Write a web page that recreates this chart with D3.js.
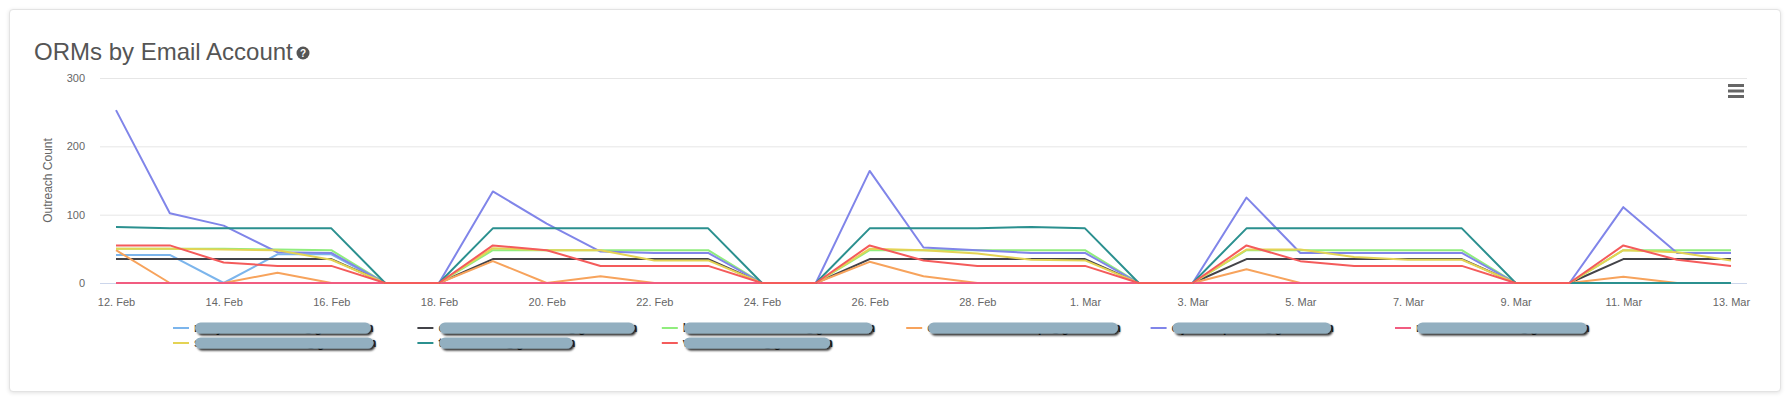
<!DOCTYPE html>
<html>
<head>
<meta charset="utf-8">
<script src="https://cdn.jsdelivr.net/npm/d3@7"></script>
<style>
	body { margin: 0; background: #fff; font-family: "Liberation Sans", Arial, sans-serif; }
	#card {
		position: absolute; left: 9px; top: 9px; width: 1770px; height: 381px;
		background: #fff; border: 1px solid #e3e3e3; border-radius: 4px;
		box-shadow: 0 1px 4px rgba(0,0,0,0.12);
	}
	#chart { position: absolute; left: 0; top: 0; }
</style>
</head>
<body>
<div id="card"></div>
<svg id="chart" width="1786" height="400"></svg>
<script>
var dates = ["2020-02-12","2020-02-13","2020-02-14","2020-02-15","2020-02-16","2020-02-17","2020-02-18",
	"2020-02-19","2020-02-20","2020-02-21","2020-02-22","2020-02-23","2020-02-24","2020-02-25",
	"2020-02-26","2020-02-27","2020-02-28","2020-02-29","2020-03-01","2020-03-02","2020-03-03",
	"2020-03-04","2020-03-05","2020-03-06","2020-03-07","2020-03-08","2020-03-09","2020-03-10",
	"2020-03-11","2020-03-12","2020-03-13"];

var names = ["rmaynard.outreach@gmail.com", "outreachteams.market@gmail.com", "lwilliamsoutreach.lnk@gmail.com",
	"c.harrison.linkbuildpr@gmail.com", "c.jensen.prteam@gmail.com", "r.dalton.seo.contc@gmail.com",
	"s.whitford.outreach@gmail.com", "t.smith2159@gmail.com", "v.mercer.links@gmail.com"];

var colors = ["#7cb5ec", "#434348", "#90ed7d", "#f7a35c", "#8085e9", "#f15c80", "#e4d354", "#2b908f", "#f45b5b"];

var blueVals   = [41,41,0,42,42,0,0,0,0,0,0,0,0,0,0,0,0,0,0,0,0,0,0,0,0,0,0,0,0,0,0];
var blackVals  = [35,35,35,35,35,0,0,35,35,35,35,35,0,0,35,35,35,35,35,0,0,35,35,35,35,35,0,0,35,35,35];
var greenVals  = [50,50,50,49,48,0,0,48,48,48,48,48,0,0,48,48,48,48,48,0,0,48,48,48,48,48,0,0,48,48,48];
var orangeVals = [48,0,0,15,0,0,0,32,0,10,0,0,0,0,31,10,0,0,0,0,0,20,0,0,0,0,0,0,9,0,0];
var purpleVals = [253,102,84,45,44,0,0,134,87,46,44,44,0,0,164,52,48,44,44,0,0,125,44,44,44,44,0,0,111,44,44];
var pinkVals   = [0,0,0,0,0,0,0,0,0,0,0,0,0,0,0,0,0,0,0,0,0,0,0,0,0,0,0,0,0,0,0];
var yellowVals = [50,50,49,48,34,0,0,51,48,48,33,33,0,0,50,48,43,34,33,0,0,49,49,38,34,34,0,0,48,45,33];
var tealVals   = [82,80,80,80,80,0,0,80,80,80,80,80,0,0,80,80,80,82,80,0,0,80,80,80,80,80,0,0,0,0,0];
var redVals    = [55,55,30,25,25,0,0,55,48,25,25,25,0,0,55,33,25,25,25,0,0,55,32,25,25,25,0,0,55,34,25];

var yTicks = [0, 100, 200, 300];

var series = [blueVals, blackVals, greenVals, orangeVals, purpleVals, pinkVals, yellowVals, tealVals, redVals]
	.map(function(v, i) { return {name: names[i], color: colors[i], values: v}; });

var parse = d3.timeParse("%Y-%m-%d");
var days = dates.map(parse);

var svg = d3.select("#chart"),
	plot = {left: 100, right: 1747, top: 78, bottom: 283};

var x = d3.scaleTime()
	.domain(d3.extent(days))
	.range([116, 1731]);

var y = d3.scaleLinear()
	.domain([0, 300])
	.range([plot.bottom, plot.top]);

/* title */

svg.append("text")
	.attr("x", 34).attr("y", 60)
	.style("font-size", "24px").style("fill", "#555")
	.text("ORMs by Email Account");

var help = svg.append("g").attr("transform", "translate(303,53)");
help.append("circle").attr("r", 6.5).attr("fill", "#555");
help.append("text").attr("y", 4).attr("text-anchor", "middle")
	.style("font-size", "10px").style("font-weight", "bold").style("fill", "#fff").text("?");

// menu button
var menu = svg.append("g").attr("transform", "translate(1736,91)");
[-5.5, 0, 5.5].forEach(function(d) {
	menu.append("line").attr("x1", -8).attr("x2", 8).attr("y1", d).attr("y2", d)
		.attr("stroke", "#666").attr("stroke-width", 3);
});

/* grid + axes */

svg.append("g")
	.selectAll("line").data(yTicks.filter(function(d) { return d > 0; }))
	.enter().append("line")
	.attr("x1", plot.left).attr("x2", plot.right)
	.attr("y1", function(d) { return y(d) + 0.5; }).attr("y2", function(d) { return y(d) + 0.5; })
	.attr("stroke", "#e6e6e6");

svg.append("line")
	.attr("x1", plot.left).attr("x2", plot.right)
	.attr("y1", plot.bottom + 0.5).attr("y2", plot.bottom + 0.5)
	.attr("stroke", "#ccd6eb");

var yAxis = svg.append("g")
	.attr("transform", "translate(85,0)")
	.call(d3.axisLeft(y).tickValues(yTicks).tickSize(0).tickPadding(0).tickFormat(d3.format("d")));
yAxis.select(".domain").remove();
yAxis.selectAll("text").style("font-size", "11px").style("fill", "#666")
	.style("font-family", "'Liberation Sans', Arial, sans-serif");

var xAxis = svg.append("g")
	.attr("transform", "translate(0," + plot.bottom + ")")
	.call(d3.axisBottom(x).tickValues(days.filter(function(d, i) { return i % 2 === 0; }))
		.tickSize(0).tickPadding(15).tickFormat(d3.timeFormat("%-d. %b")));
xAxis.select(".domain").remove();
xAxis.selectAll("text").style("font-size", "11px").style("fill", "#666")
	.style("font-family", "'Liberation Sans', Arial, sans-serif");

svg.append("text")
	.attr("transform", "translate(52," + (plot.top + plot.bottom) / 2 + ") rotate(-90)")
	.attr("text-anchor", "middle")
	.style("font-size", "12px").style("fill", "#666")
	.text("Outreach Count");

/* lines */

var line = d3.line()
	.x(function(d, i) { return x(days[i]); })
	.y(function(d) { return y(d); });

svg.append("g").selectAll("path").data(series)
	.enter().append("path")
	.attr("d", function(d) { return line(d.values); })
	.attr("fill", "none")
	.attr("stroke", function(d) { return d.color; })
	.attr("stroke-width", 2)
	.attr("stroke-linejoin", "round");

/* legend */

var defs = svg.append("defs");
var f = defs.append("filter").attr("id", "shadow").attr("x", "-10%").attr("y", "-50%").attr("width", "120%").attr("height", "200%");
f.append("feDropShadow").attr("dx", 2).attr("dy", 2).attr("stdDeviation", 1.2)
	.attr("flood-color", "#000").attr("flood-opacity", 0.85);

var legend = svg.append("g");
var item = legend.selectAll("g").data(series)
	.enter().append("g")
	.attr("transform", function(d, i) {
		return "translate(" + (173 + (i % 6) * 244.4) + "," + (328 + Math.floor(i / 6) * 15) + ")";
	});

item.append("line")
	.attr("x1", 0).attr("x2", 16)
	.attr("stroke", function(d) { return d.color; })
	.attr("stroke-width", 2);

item.append("text")
	.attr("x", 21).attr("y", 4)
	.style("font-size", "12px").style("font-weight", "bold").style("fill", "#333")
	.text(function(d) { return d.name; });

// redaction pills over the labels
item.each(function() {
	var g = d3.select(this),
		w = g.select("text").node().getComputedTextLength();
	g.append("rect")
		.attr("x", 22).attr("y", -5.5)
		.attr("width", w - 4).attr("height", 11)
		.attr("rx", 5.5)
		.attr("fill", "#92afc0")
		.attr("filter", "url(#shadow)");
});
</script>
</body>
</html>
